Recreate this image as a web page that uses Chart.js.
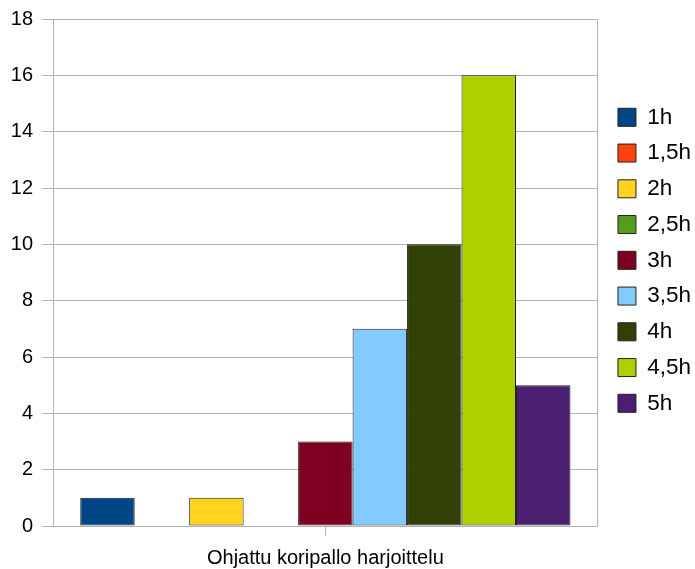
<!DOCTYPE html>
<html>
<head>
<meta charset="utf-8">
<script src="https://cdn.jsdelivr.net/npm/chart.js@4.4.0/dist/chart.umd.min.js"></script>
<style>
  html, body { margin: 0; padding: 0; background: #fff; }
  #wrap { width: 695px; height: 569px; }
</style>
</head>
<body>
<div id="wrap"><canvas id="chart" width="695" height="569"></canvas></div>
<script>
// data
const categories = ['Ohjattu koripallo harjoittelu'];
const seriesNames = ['1h', '1,5h', '2h', '2,5h', '3h', '3,5h', '4h', '4,5h', '5h'];
const seriesValues = [1, 0, 1, 0, 3, 7, 10, 16, 5];
const seriesColors = ['#004586', '#ff420e', '#ffd320', '#579d1c', '#7e0021', '#83caff', '#314004', '#aecf00', '#4b1f6f'];
const yTicks = [0, 2, 4, 6, 8, 10, 12, 14, 16, 18];

const gridColor = '#b3b3b3';
const family = "'Liberation Sans', Arial, sans-serif";
const tickFont = { family: family, size: 20 };
const legendFont = { family: family, size: 22.5 };

const datasets = seriesNames.map((name, i) => ({
  label: name,
  data: [seriesValues[i]],
  backgroundColor: seriesColors[i],
  borderColor: '#222',
  borderWidth: 1,
  borderSkipped: false,
  categoryPercentage: 0.9,
  barPercentage: 1.0,
  yAxisID: 'y'
}));

new Chart(document.getElementById('chart').getContext('2d'), {
  type: 'bar',
  data: { labels: categories, datasets: datasets },
  options: {
    responsive: false,
    animation: false,
    layout: { padding: { left: 0, right: -6, top: 0, bottom: 0 } },
    plugins: {
      tooltip: { enabled: false },
      legend: {
        position: 'right',
        align: 'start',
        title: { display: true, text: ' ', padding: { top: 48, bottom: 22 }, font: { family: family, size: 19 } },
        labels: {
          boxWidth: 18,
          boxHeight: 18,
          padding: 13.25,
          color: '#000',
          font: legendFont
        }
      }
    },
    scales: {
      x: {
        afterFit: axis => { axis.height = 43; },
        grid: {
          drawOnChartArea: false,
          drawTicks: true,
          tickLength: 10,
          offset: false,
          color: gridColor
        },
        border: { color: gridColor },
        ticks: { color: '#000', font: tickFont, padding: 10 }
      },
      y: {
        min: 0,
        max: 18,
        afterBuildTicks: axis => { axis.ticks = yTicks.map(v => ({ value: v })); },
        afterFit: axis => { axis.width = 53; axis.paddingTop = 19; },
        grid: { color: gridColor, tickLength: 11 },
        border: { color: gridColor },
        ticks: { color: '#000', font: tickFont, padding: 9 }
      },
      y2: {
        position: 'right',
        min: 0,
        max: 18,
        afterFit: axis => { axis.width = 7; axis.paddingTop = 19; },
        grid: { drawOnChartArea: false, drawTicks: false },
        border: { color: gridColor },
        ticks: { display: false }
      }
    }
  }
});
</script>
</body>
</html>
